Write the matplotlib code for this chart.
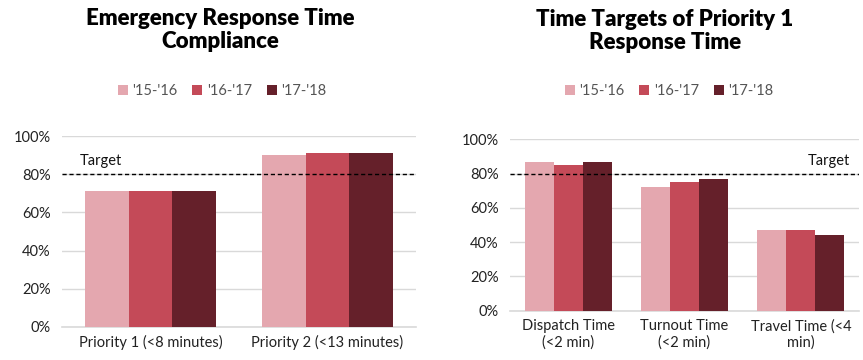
import matplotlib
matplotlib.use("Agg")
import matplotlib.pyplot as plt
import numpy as np
from matplotlib.ticker import PercentFormatter

plt.rcParams['font.family'] = ['Lato', 'DejaVu Sans']

series = ["'15-'16", "'16-'17", "'17-'18"]
colors = ["#E4A7AF", "#C44A58", "#65202A"]

left_cats = ["Priority 1 (<8 minutes)", "Priority 2 (<13 minutes)"]
left_vals = [[0.71, 0.90], [0.71, 0.91], [0.71, 0.91]]

right_cats = ["Dispatch Time\n(<2 min)", "Turnout Time\n(<2 min)", "Travel Time (<4\nmin)"]
right_vals = [[0.87, 0.72, 0.47], [0.85, 0.75, 0.47], [0.87, 0.77, 0.44]]

target = 0.80

W, H = 863, 360
fig = plt.figure(figsize=(W / 100, H / 100), dpi=100)


def px_axes(x0, y_top, x1, y_bot):
    return fig.add_axes([x0 / W, 1 - y_bot / H, (x1 - x0) / W, (y_bot - y_top) / H])


def draw(ax, cats, vals, group_w):
    n = len(series)
    x = np.arange(len(cats))
    bw = group_w / n
    for i, (s, c) in enumerate(zip(series, colors)):
        ax.bar(x - group_w / 2 + bw * (i + 0.5), vals[i], bw, color=c, label=s, zorder=3)
    ax.set_xlim(-0.5, len(cats) - 0.5)
    ax.set_ylim(0, 1.0)
    ax.set_yticks(np.arange(0, 1.01, 0.2))
    ax.yaxis.set_major_formatter(PercentFormatter(1.0, decimals=0))
    ax.set_xticks(x)
    ax.set_xticklabels(cats, fontsize=10.5, color="#222222")
    ax.tick_params(axis='y', labelsize=10.5, colors="#222222", length=0, pad=8)
    ax.tick_params(axis='x', length=0, pad=6)
    ax.grid(axis='y', color="#D9D9D9", linewidth=1, zorder=0)
    for sp in ["top", "right", "left"]:
        ax.spines[sp].set_visible(False)
    ax.spines["bottom"].set_color("#D9D9D9")
    ax.spines["bottom"].set_linewidth(1.2)
    ax.axhline(target, color="black", linestyle=(0, (3, 2)), linewidth=1, zorder=4)


axL = px_axes(62, 136, 416, 327)
draw(axL, left_cats, left_vals, 0.745)
axL.text(0.05, 0.83, "Target", transform=axL.transAxes, fontsize=10.5, color="#111111", ha="left", va="bottom")

axR = px_axes(510, 139.3, 859, 310.7)
draw(axR, right_cats, right_vals, 0.75)
axR.text(0.975, 0.83, "Target", transform=axR.transAxes, fontsize=10.5, color="#111111", ha="right", va="bottom")

fig.text(220 / W, 1 - 30 / H, "Emergency Response Time\nCompliance", ha="center", va="center",
         fontsize=16, fontweight="heavy", linespacing=1.1)
fig.text(665 / W, 1 - 31 / H, "Time Targets of Priority 1\nResponse Time", ha="center", va="center",
         fontsize=16, fontweight="heavy", linespacing=1.1)

for ax, cx in [(axL, 222), (axR, 669)]:
    h, l = ax.get_legend_handles_labels()
    fig.legend(h, l, loc="center", bbox_to_anchor=(cx / W, 1 - 91 / H), ncol=3, frameon=False,
               fontsize=10.5, handlelength=0.7, handleheight=0.7, handletextpad=0.3,
               columnspacing=1.0, labelcolor="#555555")

fig.savefig("out.png", dpi=100)
